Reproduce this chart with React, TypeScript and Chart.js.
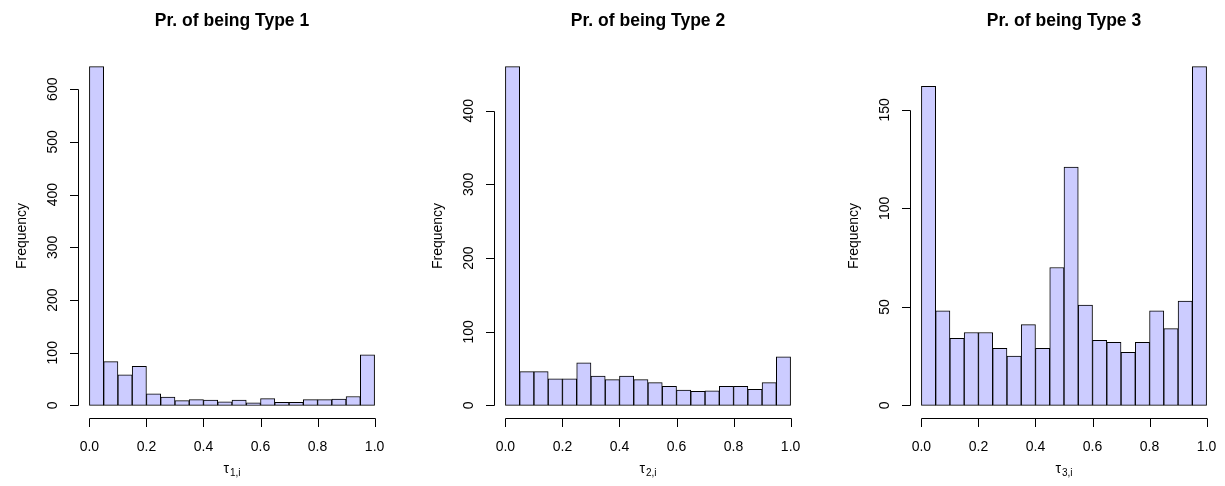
import React, { useEffect, useRef } from "react";
import { Chart, registerables } from "chart.js";

Chart.register(...registerables);

// Bin centres of the 20 histogram cells (width 0.05)
const binCenters = [
  0.025, 0.075, 0.125, 0.175, 0.225, 0.275, 0.325, 0.375, 0.425, 0.475,
  0.525, 0.575, 0.625, 0.675, 0.725, 0.775, 0.825, 0.875, 0.925, 0.975,
];

const type1Counts = [643, 83, 58, 74, 22, 16, 9, 11, 10, 7, 10, 5, 13, 6, 6, 11, 11, 12, 17, 96];
const type2Counts = [460, 46, 46, 36, 36, 58, 40, 35, 40, 35, 31, 26, 21, 19, 20, 26, 26, 22, 31, 66];
const type3Counts = [162, 48, 34, 37, 37, 29, 25, 41, 29, 70, 121, 51, 33, 32, 27, 32, 48, 39, 53, 172];

const xTickValues = [0, 0.2, 0.4, 0.6, 0.8, 1.0];
const xTickLabels = ["0.0", "0.2", "0.4", "0.6", "0.8", "1.0"];

const yTicksType1 = [0, 100, 200, 300, 400, 500, 600];
const yTicksType2 = [0, 100, 200, 300, 400];
const yTicksType3 = [0, 50, 100, 150];

const panelTitles = ["Pr. of being Type 1", "Pr. of being Type 2", "Pr. of being Type 3"];
const xLabelSymbol = "τ";
const xLabelSubscripts = ["1,i", "2,i", "3,i"];
const yAxisTitle = "Frequency";

const FONT = "'Liberation Sans', Arial, Helvetica, sans-serif";

type PanelProps = {
  counts: number[];
  yTicks: number[];
  title: string;
  sub: string;
  left: number;
};

function Panel({ counts, yTicks, title, sub, left }: PanelProps) {
  const ref = useRef<HTMLCanvasElement | null>(null);

  useEffect(() => {
    const canvas = ref.current;
    if (!canvas) return;
    const maxCount = Math.max(...counts);

    const rAxes = {
      id: "rAxes",
      afterDraw(chart: any) {
        const ctx: CanvasRenderingContext2D = chart.ctx;
        const area = chart.chartArea;
        const xs = chart.scales.x;
        const ys = chart.scales.y;
        ctx.save();
        ctx.strokeStyle = "#000";
        ctx.fillStyle = "#000";
        ctx.lineWidth = 1;

        // y axis (R style, spans first to last tick)
        const ax = Math.round(area.left) + 0.5;
        const yFirst = ys.getPixelForValue(yTicks[0]);
        const yLast = ys.getPixelForValue(yTicks[yTicks.length - 1]);
        ctx.beginPath();
        ctx.moveTo(ax, Math.round(yFirst) + 0.5);
        ctx.lineTo(ax, Math.round(yLast) + 0.5);
        for (const v of yTicks) {
          const py = Math.round(ys.getPixelForValue(v)) + 0.5;
          ctx.moveTo(ax, py);
          ctx.lineTo(ax - 8.5, py);
        }
        ctx.stroke();

        ctx.font = `14px ${FONT}`;
        ctx.textAlign = "center";
        ctx.textBaseline = "alphabetic";
        for (const v of yTicks) {
          const py = ys.getPixelForValue(v);
          ctx.save();
          ctx.translate(area.left - 21, py);
          ctx.rotate(-Math.PI / 2);
          ctx.fillText(String(v), 0, 0);
          ctx.restore();
        }

        // x axis
        const byy = Math.round(area.bottom) - 0.5;
        const xFirst = xs.getPixelForValue(xTickValues[0]);
        const xLast = xs.getPixelForValue(xTickValues[xTickValues.length - 1]);
        ctx.beginPath();
        ctx.moveTo(Math.round(xFirst) + 0.5, byy);
        ctx.lineTo(Math.round(xLast) + 0.5, byy);
        for (const v of xTickValues) {
          const px = Math.round(xs.getPixelForValue(v)) + 0.5;
          ctx.moveTo(px, byy);
          ctx.lineTo(px, byy + 8.5);
        }
        ctx.stroke();

        xTickValues.forEach((v, i) => {
          ctx.fillText(xTickLabels[i], xs.getPixelForValue(v), 450.5);
        });

        const cx = (xFirst + xLast) / 2;

        // y axis title
        ctx.save();
        ctx.translate(area.left - 52, (area.top + area.bottom) / 2);
        ctx.rotate(-Math.PI / 2);
        ctx.fillText(yAxisTitle, 0, 0);
        ctx.restore();

        // x axis title: tau with subscript
        ctx.textAlign = "left";
        ctx.font = `14px ${FONT}`;
        const wT = ctx.measureText(xLabelSymbol).width;
        ctx.font = `10px ${FONT}`;
        const wS = ctx.measureText(sub).width;
        const startX = cx - (wT + wS + 1) / 2;
        ctx.font = `14px ${FONT}`;
        ctx.fillText(xLabelSymbol, startX, 473);
        ctx.font = `10px ${FONT}`;
        ctx.fillText(sub, startX + wT + 1, 476);

        // main title
        ctx.textAlign = "center";
        ctx.font = `bold 17.5px ${FONT}`;
        ctx.fillText(title, cx, 26);

        ctx.restore();
      },
    };

    const chart = new Chart(canvas, {
      type: "bar",
      data: {
        datasets: [
          {
            data: counts.map((c, i) => ({ x: binCenters[i], y: c })),
            backgroundColor: "#CCCCFF",
            borderColor: "#000000",
            borderWidth: 1,
            borderSkipped: false,
            barPercentage: 1,
            categoryPercentage: 1,
          } as any,
        ],
      },
      options: {
        animation: false,
        responsive: false,
        devicePixelRatio: 1,
        layout: { padding: { left: 78, right: 30, top: 53, bottom: 67 } },
        plugins: {
          legend: { display: false },
          title: { display: false },
          tooltip: { enabled: false },
        },
        scales: {
          x: {
            type: "linear",
            min: -0.04,
            max: 1.04,
            offset: false,
            grid: { offset: false },
            display: false,
            afterBuildTicks: (s: any) => {
              s.ticks = xTickValues.map((v) => ({ value: v }));
            },
          },
          y: {
            type: "linear",
            min: -0.04 * maxCount,
            max: 1.04 * maxCount,
            display: false,
            afterBuildTicks: (s: any) => {
              s.ticks = yTicks.map((v) => ({ value: v }));
            },
          },
        },
      } as any,
      plugins: [rAxes],
    });

    return () => chart.destroy();
  }, [counts, yTicks, title, sub]);

  return (
    <div style={{ position: "absolute", left, top: 0, width: 416, height: 486 }}>
      <canvas ref={ref} width={416} height={486} style={{ display: "block" }} />
    </div>
  );
}

export default function App() {
  return (
    <div
      style={{
        position: "fixed",
        left: 0,
        top: 0,
        width: 1225,
        height: 486,
        overflow: "hidden",
        background: "#ffffff",
      }}
    >
      <Panel counts={type1Counts} yTicks={yTicksType1} title={panelTitles[0]} sub={xLabelSubscripts[0]} left={0} />
      <Panel counts={type2Counts} yTicks={yTicksType2} title={panelTitles[1]} sub={xLabelSubscripts[1]} left={416} />
      <Panel counts={type3Counts} yTicks={yTicksType3} title={panelTitles[2]} sub={xLabelSubscripts[2]} left={832} />
    </div>
  );
}
